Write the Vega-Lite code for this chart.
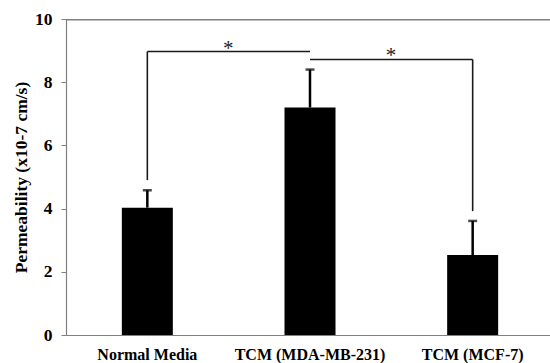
{
  "$schema": "https://vega.github.io/schema/vega-lite/v6.json",
  "width": 484,
  "height": 316,
  "autosize": {"type": "none"},
  "padding": {"left": 66, "top": 19, "right": 0, "bottom": 28},
  "background": "white",
  "config": {
    "view": {"stroke": null},
    "font": "Liberation Serif"
  },
  "datasets": {
    "bars": [
      {"group": "Normal Media", "value": 4.03, "upper": 4.58},
      {"group": "TCM (MDA-MB-231)", "value": 7.2, "upper": 8.4},
      {"group": "TCM (MCF-7)", "value": 2.53, "upper": 3.61}
    ],
    "brackets": [
      {"from": "Normal Media", "to": "Normal Media", "y1": 4.9, "y2": 8.97},
      {"from": "Normal Media", "to": "TCM (MDA-MB-231)", "y1": 8.97, "y2": 8.97},
      {"from": "TCM (MDA-MB-231)", "to": "TCM (MCF-7)", "y1": 8.72, "y2": 8.72},
      {"from": "TCM (MCF-7)", "to": "TCM (MCF-7)", "y1": 8.72, "y2": 3.92}
    ],
    "stars": [
      {"group": "Normal Media", "y": 8.97, "label": "*"},
      {"group": "TCM (MDA-MB-231)", "y": 8.72, "label": "*"}
    ],
    "frameline": [{"from": "Normal Media", "to": "TCM (MCF-7)", "v": 9.98}]
  },
  "layer": [
    {
      "data": {"name": "bars"},
      "mark": {"type": "bar", "size": 51, "color": "black"},
      "encoding": {
        "x": {
          "field": "group",
          "type": "nominal",
          "scale": {"type": "band", "domain": ["Normal Media", "TCM (MDA-MB-231)", "TCM (MCF-7)"], "paddingInner": 0, "paddingOuter": 0, "range": [0, 488]},
          "axis": {
            "title": null,
            "labelAngle": 0,
            "ticks": false,
            "labelPadding": 11,
            "labelFont": "Liberation Serif",
            "labelFontWeight": "bold",
            "labelFontSize": 16,
            "labelColor": "black",
            "domainColor": "#808080",
            "domainWidth": 1.2
          }
        },
        "y": {
          "field": "value",
          "type": "quantitative",
          "scale": {"domain": [0, 10]},
          "axis": {
            "title": "Permeability (x10-7 cm/s)",
            "values": [0, 2, 4, 6, 8, 10],
            "grid": false,
            "tickSize": 5,
            "tickColor": "#808080",
            "domainColor": "#808080",
            "domainWidth": 1.2,
            "labelPadding": 9,
            "labelFont": "Liberation Serif",
            "labelFontWeight": "bold",
            "labelFontSize": 17.5,
            "labelColor": "black",
            "titleFont": "Liberation Serif",
            "titleFontWeight": "bold",
            "titleFontSize": 17.5,
            "titleColor": "black",
            "titlePadding": 4
          }
        }
      }
    },
    {
      "data": {"name": "frameline"},
      "mark": {"type": "rule", "color": "#808080", "strokeWidth": 1.5},
      "encoding": {
        "x": {"field": "from", "type": "nominal", "bandPosition": 0},
        "x2": {"field": "to", "bandPosition": 1},
        "y": {"field": "v", "type": "quantitative"},
        "y2": {"field": "v"}
      }
    },
    {
      "data": {"name": "bars"},
      "mark": {"type": "rule", "color": "black", "strokeWidth": 2.5},
      "encoding": {
        "x": {"field": "group", "type": "nominal"},
        "y": {"field": "value", "type": "quantitative"},
        "y2": {"field": "upper"}
      }
    },
    {
      "data": {"name": "bars"},
      "mark": {"type": "tick", "color": "black", "size": 9, "thickness": 2.5, "orient": "horizontal"},
      "encoding": {
        "x": {"field": "group", "type": "nominal"},
        "y": {"field": "upper", "type": "quantitative"}
      }
    },
    {
      "data": {"name": "brackets"},
      "mark": {"type": "rule", "color": "#1a1a1a", "strokeWidth": 1.6},
      "encoding": {
        "x": {"field": "from", "type": "nominal"},
        "x2": {"field": "to"},
        "y": {"field": "y1", "type": "quantitative"},
        "y2": {"field": "y2"}
      }
    },
    {
      "data": {"name": "stars"},
      "mark": {"type": "text", "font": "Liberation Serif", "fontSize": 21, "color": "#222", "dx": 81, "dy": 3, "baseline": "alphabetic"},
      "encoding": {
        "x": {"field": "group", "type": "nominal"},
        "y": {"field": "y", "type": "quantitative"},
        "text": {"field": "label"}
      }
    }
  ]
}
